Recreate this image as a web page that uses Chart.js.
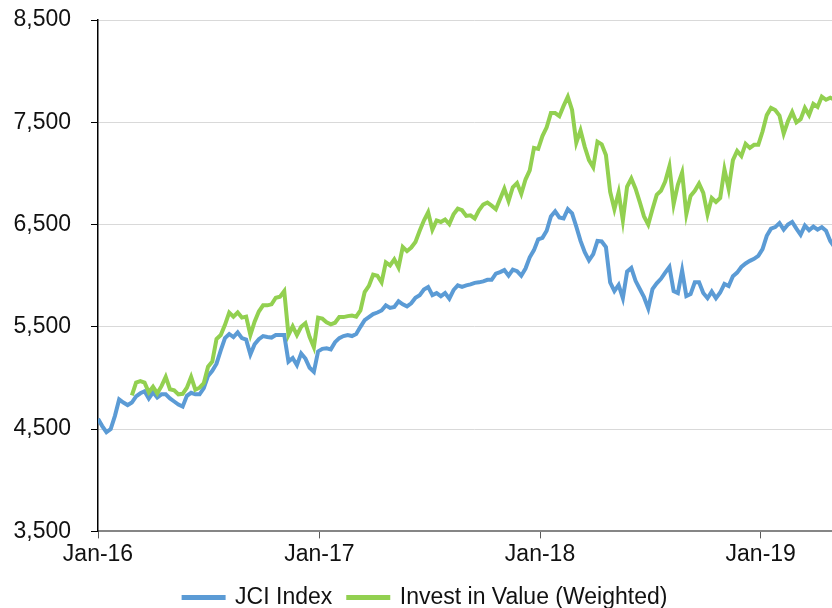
<!DOCTYPE html>
<html>
<head>
<meta charset="utf-8">
<script src="https://cdn.jsdelivr.net/npm/chart.js@4.4.1/dist/chart.umd.min.js"></script>
<style>
  html, body { margin: 0; padding: 0; overflow: hidden; background: #fff; }
  #wrap { width: 851px; height: 608px; }
</style>
</head>
<body>
<div id="wrap"><canvas id="lineChart"></canvas></div>
<script>
// weekly closes, week 0 = first week of Jan-16
const seriesNames = ['JCI Index', 'Invest in Value (Weighted)'];

const jciIndex = [
    4600, 4530, 4470, 4500, 4630, 4790, 4760, 4735, 4760, 4820,
    4850, 4870, 4800, 4860, 4810, 4840, 4840, 4800, 4770, 4740,
    4720, 4825, 4855, 4840, 4840, 4900, 5020, 5070, 5140, 5270,
    5390, 5430, 5400, 5445, 5390, 5375, 5230, 5330, 5380, 5410,
    5400, 5395, 5420, 5420, 5420, 5160, 5195, 5125, 5240, 5190,
    5100, 5060, 5260, 5285, 5290, 5280, 5350, 5390, 5410, 5420,
    5410, 5430, 5500, 5565, 5595, 5625, 5640, 5660, 5710, 5685,
    5695, 5750, 5720, 5700, 5730, 5785, 5810, 5865, 5890, 5810,
    5830, 5800, 5830, 5775, 5860, 5905, 5890, 5905, 5915, 5930,
    5935, 5945, 5960, 5960, 6020, 6035, 6055, 6000, 6060, 6045,
    6000, 6070, 6180, 6250, 6355, 6370, 6440, 6580, 6630, 6570,
    6560, 6650, 6610, 6480, 6340, 6230, 6150, 6210, 6340, 6335,
    6280, 5935, 5850, 5910, 5780, 6040, 6075, 5950, 5870, 5790,
    5680, 5870, 5925, 5970, 6030, 6085, 5850, 5830, 6050, 5800,
    5820, 5935, 5935, 5830, 5780, 5845, 5780, 5835, 5920, 5900,
    5995, 6030, 6085, 6120, 6145, 6165, 6195, 6260, 6390, 6460,
    6475, 6515, 6450, 6500, 6525, 6460, 6400, 6490, 6445, 6480,
    6450, 6475, 6440, 6340, 6280
];

const investInValue = [
    null, null, null, null, null, null, null, null, 4830, 4955,
    4970, 4955, 4860, 4915, 4850, 4920, 5010, 4890, 4880, 4840,
    4845, 4905, 5010, 4885, 4905, 4950, 5110, 5160, 5380, 5420,
    5520, 5640, 5600, 5640, 5590, 5600, 5420, 5550, 5650, 5710,
    5710, 5720, 5785, 5795, 5850, 5420, 5505, 5420, 5500, 5535,
    5400, 5300, 5590, 5580, 5545, 5525, 5540, 5595, 5595, 5605,
    5610, 5600, 5660, 5840, 5900, 6010, 6000, 5935, 6130, 6100,
    6160, 6080, 6280, 6240, 6275, 6330, 6440, 6540, 6620, 6450,
    6540, 6525, 6550, 6505, 6600, 6655, 6640, 6585, 6590, 6560,
    6640, 6695, 6715, 6685, 6650, 6750, 6850, 6730, 6865, 6905,
    6800, 6940, 7030, 7250, 7240, 7365, 7450, 7590, 7590, 7560,
    7660, 7750, 7620, 7300, 7420, 7260, 7130, 7060, 7310, 7285,
    7180, 6820, 6650, 6815, 6540, 6870, 6950, 6850, 6720, 6580,
    6500, 6650, 6790, 6830, 6920, 7070, 6700, 6890, 7010, 6600,
    6780, 6830, 6900, 6810, 6600, 6760, 6720, 6760, 7040, 6850,
    7130, 7220, 7170, 7290, 7250, 7280, 7280, 7410, 7570, 7640,
    7620, 7565, 7390, 7510, 7600, 7500, 7530, 7640, 7570, 7680,
    7650, 7750, 7720, 7740, 7720
];

// Jan 1st of each year, in weeks from the start
const tickWeeks = [0, 52.29, 104.43, 156.57];
const tickLabels = ['Jan-16', 'Jan-17', 'Jan-18', 'Jan-19'];

const toPoints = arr => arr.map((v, i) => ({ x: i, y: v }));

Chart.defaults.font.family = "'Liberation Sans', Arial, sans-serif";
Chart.defaults.font.size = 23;
Chart.defaults.color = '#111';

const ctx = document.getElementById('lineChart');

new Chart(ctx, {
    type: 'line',
    data: {
        datasets: [{
            // green first so it is drawn above the blue line
            label: seriesNames[1],
            data: toPoints(investInValue),
            borderColor: '#92D050',
            backgroundColor: '#92D050',
            borderWidth: 4,
            pointRadius: 0,
            tension: 0
        }, {
            label: seriesNames[0],
            data: toPoints(jciIndex),
            borderColor: '#5B9BD5',
            backgroundColor: '#5B9BD5',
            borderWidth: 4,
            pointRadius: 0,
            tension: 0
        }]
    },
    options: {
        responsive: true,
        maintainAspectRatio: false,
        animation: false,
        layout: { padding: { top: 20, left: 0, right: 0, bottom: 0 } },
        plugins: {
            tooltip: { enabled: false },
            legend: {
                position: 'bottom',
                reverse: true,
                maxHeight: 38,
                labels: {
                    boxWidth: 40,
                    boxHeight: 1,
                    padding: 16,
                    color: '#111',
                    font: { size: 23 }
                }
            }
        },
        scales: {
            x: {
                type: 'linear',
                min: 0,
                max: 177.9,
                afterBuildTicks: s => { s.ticks = tickWeeks.map(v => ({ value: v })); },
                border: { color: '#868686', width: 2 },
                grid: { drawOnChartArea: false, drawTicks: true, tickLength: 7, tickColor: '#595959' },
                ticks: {
                    padding: 2,
                    maxRotation: 0,
                    autoSkip: false,
                    callback: (v, i) => tickLabels[i]
                }
            },
            y: {
                min: 3500,
                max: 8500,
                afterFit: s => {
                    s.width = 98;
                    // label padding should not push the plot down
                    s.paddingTop = 12;
                    s.paddingBottom = 12;
                },
                border: { color: '#000', width: 1.5 },
                grid: { color: '#d9d9d9', lineWidth: 1, tickLength: 7, tickColor: '#000' },
                ticks: {
                    stepSize: 1000,
                    padding: 20,
                    callback: v => v.toLocaleString('en-US')
                }
            }
        }
    }
});
</script>
</body>
</html>
